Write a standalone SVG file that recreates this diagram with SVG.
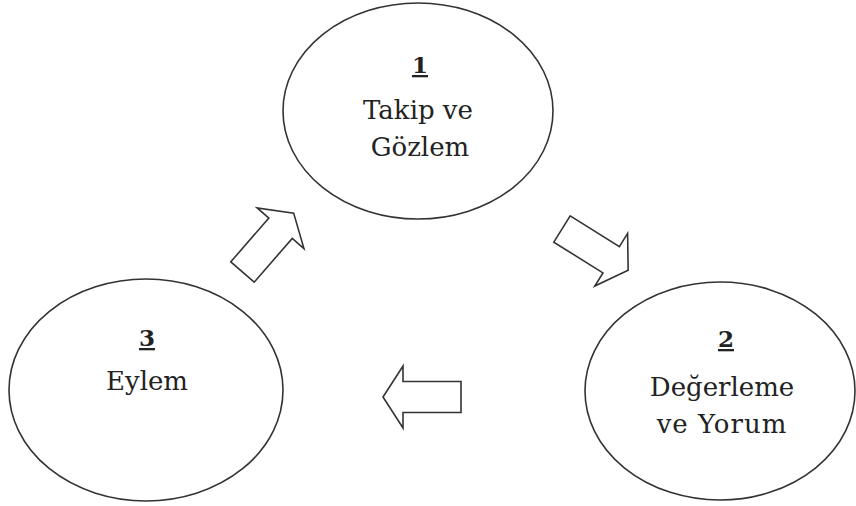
<svg xmlns="http://www.w3.org/2000/svg" xmlns:xlink="http://www.w3.org/1999/xlink" width="856" height="506" viewBox="0 0 856 506">
<style>
.node ellipse{fill:#fff;stroke:#333;stroke-width:1.6}
.lbl{font-family:"DejaVu Serif","Liberation Serif",serif;font-size:26px;fill:#222;text-anchor:middle}
.num{font-size:23px;font-weight:bold;text-decoration:underline}
.arrow{fill:#fff;stroke:#333;stroke-width:1.6;stroke-linejoin:miter}
</style>
<defs>
<path id="arr" d="M0,-15.5 H58 V-31 L78,0 L58,31 V15.5 H0 Z"/>
</defs>
<rect width="856" height="506" fill="#fff"/>
<g id="node1" class="node">
<ellipse cx="418" cy="111" rx="135" ry="108"/>
<text class="lbl num" x="420" y="73">1</text>
<text class="lbl" x="418" y="119">Takip ve</text>
<text class="lbl" x="420" y="156">Gözlem</text>
</g>
<g id="node2" class="node">
<ellipse cx="720" cy="391" rx="135" ry="109"/>
<text class="lbl num" x="726" y="347">2</text>
<text class="lbl" x="722" y="396">Değerleme</text>
<text class="lbl" x="722" y="433" letter-spacing="1">ve Yorum</text>
</g>
<g id="node3" class="node">
<ellipse cx="146" cy="390" rx="137" ry="111"/>
<text class="lbl num" x="147" y="346">3</text>
<text class="lbl" x="147" y="390">Eylem</text>
</g>
<g id="connectors">
<use xlink:href="#arr" class="arrow" transform="translate(242.5,272) rotate(-49)"/>
<use xlink:href="#arr" class="arrow" transform="translate(562,229) rotate(32)"/>
<use xlink:href="#arr" class="arrow" transform="translate(461,397) rotate(180)"/>
</g>
</svg>
